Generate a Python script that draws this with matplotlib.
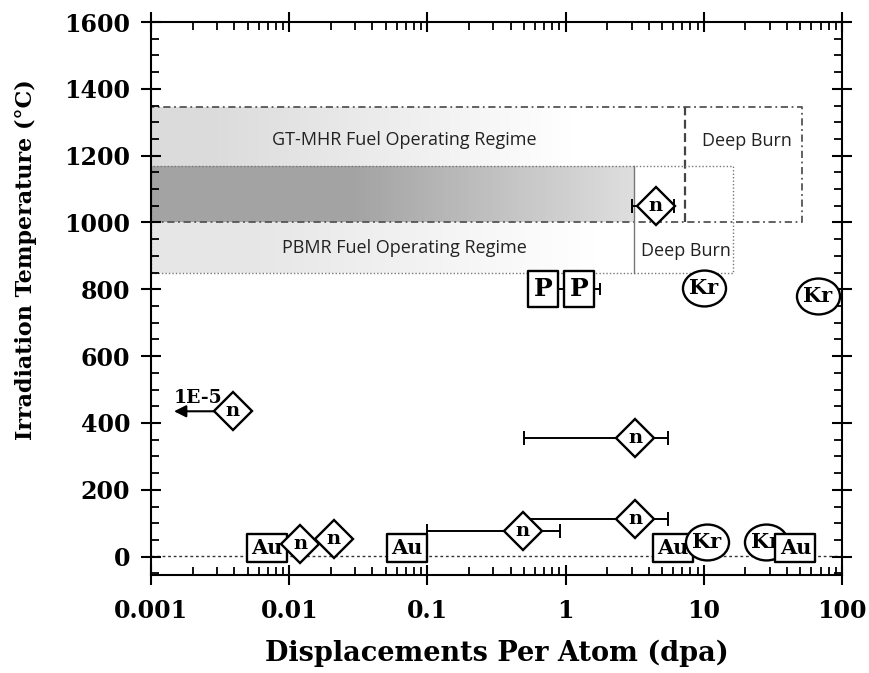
import numpy as np
import matplotlib.pyplot as plt
from matplotlib.path import Path
from matplotlib.ticker import MultipleLocator, LogLocator, NullFormatter, FixedLocator, FixedFormatter

# ---- data ----
# neutron irradiations (diamonds)
n_x = [0.0039, 0.012, 0.021, 0.49, 3.2, 3.2, 4.5]
n_y = [435, 37, 52, 77, 113, 356, 1048]
n_xlo = [0.0039, 0.012, 0.021, 0.10, 0.5, 0.5, 3.0]
n_xhi = [0.0039, 0.012, 0.021, 0.91, 5.5, 5.5, 6.1]

# proton irradiations (squares)
p_x = [0.69, 1.25]
p_y = [800, 800]
p_xlo = [0.69, 0.69]
p_xhi = [0.69, 1.78]

# krypton ions (ellipses)
kr_x = [10.0, 67.0, 10.5, 28.0]
kr_y = [805, 780, 43, 43]

# gold ions (rectangles)
au_x = [0.0069, 0.071, 6.0, 46.0]
au_y = [26, 26, 26, 26]

# operating regimes: (x0, x1, y0, y1)
gtmhr = (0.001, 7.3, 1000, 1345)
gtmhr_deep = (7.3, 51.0, 1000, 1345)
pbmr = (0.001, 3.1, 850, 1170)
pbmr_deep = (3.1, 16.3, 850, 1170)

serif = 'DejaVu Serif'
sans = 'Open Sans'

# marker shapes
ellipse = Path.unit_circle().transformed(
    plt.matplotlib.transforms.Affine2D().scale(1.2, 1.0))
au_rect = Path([(-1, -0.675), (1, -0.675), (1, 0.675), (-1, 0.675), (-1, -0.675)],
               [Path.MOVETO, Path.LINETO, Path.LINETO, Path.LINETO, Path.CLOSEPOLY])
p_rect = Path([(-0.85, -1), (0.85, -1), (0.85, 1), (-0.85, 1), (-0.85, -1)],
              [Path.MOVETO, Path.LINETO, Path.LINETO, Path.LINETO, Path.CLOSEPOLY])

fig = plt.figure(figsize=(8.69, 6.73), dpi=100)
ax = fig.add_axes([0.1738, 0.1456, 0.7952, 0.8217])
ax.set_xscale('log')
ax.set_xlim(0.001, 100)
ax.set_ylim(-55, 1600)


def grad_band(x0, x1, y0, y1, c0, c1, fade_start, fade_end, z):
    # gray gradient along log(x): c0 until fade_start, c1 from fade_end
    edges = np.logspace(np.log10(x0), np.log10(x1), 160)
    lx0, lx1 = np.log10(fade_start), np.log10(fade_end)
    for a, b in zip(edges[:-1], edges[1:]):
        m = np.log10(np.sqrt(a * b))
        t = min(max((m - lx0) / (lx1 - lx0), 0.0), 1.0)
        g = c0 + (c1 - c0) * t
        ax.fill_between([a, b], y0, y1, color=(g, g, g), lw=0, zorder=z)


# shaded regimes
grad_band(gtmhr[0], gtmhr[1], gtmhr[2], gtmhr[3], 0.86, 1.0, 0.003, 1.2, 0.5)
grad_band(pbmr[0], pbmr[1], pbmr[2], 1000, 0.90, 1.0, 0.005, 1.8, 0.6)
grad_band(pbmr[0], pbmr[1], 1000, pbmr[3], 0.64, 0.87, 0.03, 3.1, 0.7)

# regime outlines
x0, x1, y0, y1 = gtmhr[0], gtmhr_deep[1], gtmhr[2], gtmhr[3]
ax.plot([x0, x1, x1, x0, x0], [y0, y0, y1, y1, y0], color='#555555', lw=1.3,
        ls=(0, (4, 2, 1, 2)), zorder=1)
ax.plot([gtmhr[1], gtmhr[1]], [y0, y1], color='#444444', lw=1.6, ls=(0, (4, 2)), zorder=1)
x0, x1, y0, y1 = pbmr[0], pbmr_deep[1], pbmr[2], pbmr[3]
ax.plot([x0, x1, x1, x0, x0], [y0, y0, y1, y1, y0], color='#777777', lw=1.0,
        ls=(0, (1, 1.5)), zorder=1)
ax.plot([pbmr[1], pbmr[1]], [y0, y1], color='#777777', lw=1.0, zorder=1)

ax.text(0.068, 1247, 'GT-MHR Fuel Operating Regime', ha='center', va='center',
        fontsize=13, color='#222222', family=sans, zorder=2)
ax.text(0.068, 925, 'PBMR Fuel Operating Regime', ha='center', va='center',
        fontsize=13, color='#222222', family=sans, zorder=2)
ax.text(20.5, 1243, 'Deep Burn', ha='center', va='center', fontsize=13,
        color='#222222', family=sans, zorder=2)
ax.text(7.4, 916, 'Deep Burn', ha='center', va='center', fontsize=13,
        color='#222222', family=sans, zorder=2)

# room temperature reference
ax.axhline(3, color='#333333', lw=1.0, ls=(0, (2, 2)), zorder=1)


def labelled(x, y, marker, ms, label, fs, z):
    ax.plot(x, y, marker=marker, ms=ms, mfc='white', mec='black', mew=1.7,
            ls='none', zorder=z)
    ax.text(x, y, label, ha='center', va='center', fontsize=fs,
            fontweight='bold', family=serif, zorder=z + 0.01)


# neutron data with error bars
for x, y, lo, hi in zip(n_x, n_y, n_xlo, n_xhi):
    if hi > lo:
        ax.errorbar(x, y, xerr=[[x - lo], [hi - x]], fmt='none', ecolor='black',
                    elinewidth=1.4, capsize=5, capthick=1.4, zorder=3)
    labelled(x, y, 'D', 19, 'n', 14, 4)

# arrow for the 1E-5 dpa point
ax.annotate('', xy=(0.0014, n_y[0]), xytext=(0.0031, n_y[0]),
            arrowprops=dict(arrowstyle='-|>', color='black', lw=1.5,
                            mutation_scale=18), zorder=3)
ax.text(0.00145, 474, '1E-5', ha='left', va='center', fontsize=13.5,
        fontweight='bold', family=serif, zorder=5)

# proton data
for x, y, lo, hi in zip(p_x, p_y, p_xlo, p_xhi):
    if hi > lo:
        ax.errorbar(x, y, xerr=[[x - lo], [hi - x]], fmt='none', ecolor='black',
                    elinewidth=1.4, capsize=4, capthick=1.4, zorder=3)
for x, y in zip(p_x, p_y):
    labelled(x, y, p_rect, 26, 'P', 18, 5)

# gold / krypton data (draw order sets overlaps)
labelled(au_x[0], au_y[0], au_rect, 29, 'Au', 15, 3.5)
labelled(au_x[1], au_y[1], au_rect, 29, 'Au', 15, 3.5)
labelled(au_x[2], au_y[2], au_rect, 29, 'Au', 15, 5)
labelled(kr_x[2], kr_y[2], ellipse, 31, 'Kr', 15, 6)
labelled(kr_x[3], kr_y[3], ellipse, 31, 'Kr', 15, 5)
labelled(au_x[3], au_y[3], au_rect, 29, 'Au', 15, 6)
for x, y in zip(kr_x[:2], kr_y[:2]):
    labelled(x, y, ellipse, 31, 'Kr', 15, 5)

# axes styling
xticks = [0.001, 0.01, 0.1, 1, 10, 100]
xlabels = ['0.001', '0.01', '0.1', '1', '10', '100']
ax.xaxis.set_major_locator(FixedLocator(xticks))
ax.xaxis.set_major_formatter(FixedFormatter(xlabels))
ax.xaxis.set_minor_locator(LogLocator(base=10, subs=np.arange(2, 10)))
ax.xaxis.set_minor_formatter(NullFormatter())
ax.yaxis.set_major_locator(MultipleLocator(200))
ax.yaxis.set_minor_locator(MultipleLocator(50))

ax.tick_params(which='major', direction='inout', length=14, width=1.5,
               top=True, right=True, labelsize=17)
ax.tick_params(which='minor', direction='in', length=6, width=1.3,
               top=True, right=True)
for lab in ax.get_xticklabels() + ax.get_yticklabels():
    lab.set_fontfamily(serif)
    lab.set_fontweight('bold')
ax.tick_params(axis='x', pad=10)
ax.tick_params(axis='y', pad=8)
for s in ax.spines.values():
    s.set_linewidth(1.5)

ax.set_xlabel('Displacements Per Atom (dpa)', fontsize=19.5, fontweight='bold',
              family=serif, labelpad=12)
ax.set_ylabel('Irradiation Temperature (°C)', fontsize=16, fontweight='bold',
              family=serif)
ax.yaxis.set_label_coords(-0.165, 0.57)

fig.savefig('out.png', dpi=100)
